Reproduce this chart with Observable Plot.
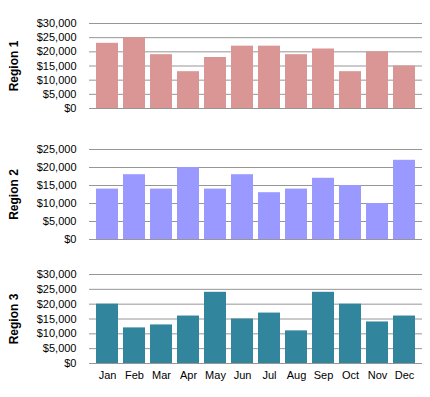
<!DOCTYPE html>
<html>
<head>
<meta charset="utf-8">
<script src="https://cdn.jsdelivr.net/npm/d3@7"></script>
<script src="https://cdn.jsdelivr.net/npm/@observablehq/plot@0.6"></script>
<style>
  body { margin: 0; background: #fff; }
  #chart svg { display: block; }
</style>
</head>
<body>
<div id="chart"></div>
<script>
const months = ["Jan","Feb","Mar","Apr","May","Jun","Jul","Aug","Sep","Oct","Nov","Dec"];
const region1 = [23000,25000,19000,13000,18000,22000,22000,19000,21000,13000,20000,15000];
const region2 = [14000,18000,14000,20000,14000,18000,13000,14000,17000,15000,10000,22000];
const region3 = [20000,12000,13000,16000,24000,15000,17000,11000,24000,20000,14000,16000];
const regionLabels = ["Region 1","Region 2","Region 3"];
const regionColors = ["#D99694","#9999FF","#31859C"];
const yMaxes = [30000, 25000, 30000];

const fmt = d => "$" + d3.format(",")(d);
const FONT = "'Liberation Sans', Arial, sans-serif";

function panel(values, color, label, ymax, height, mt, mb, showX) {
  const data = months.map((m, i) => ({month: m, value: values[i]}));
  return Plot.plot({
    width: 430,
    height,
    marginLeft: 89,
    marginRight: 8,
    marginTop: mt,
    marginBottom: mb,
    style: {fontFamily: FONT, fontSize: "11px", color: "#000", background: "#fff"},
    x: {domain: months, paddingInner: 0.2, paddingOuter: 0.1},
    y: {domain: [0, ymax], ticks: d3.range(0, ymax + 1, 5000)},
    marks: [
      Plot.gridY(d3.range(0, ymax + 1, 5000), {stroke: "#969696", strokeOpacity: 1, strokeWidth: 1}),
      Plot.barY(data, {x: "month", y: "value", fill: color, inset: 0}),
      Plot.axisY(d3.range(0, ymax + 1, 5000), {
        tickSize: 0, tickPadding: 13, tickFormat: fmt,
        label: label, labelAnchor: "center", labelArrow: false, labelOffset: 80,
        fontSize: 11
      }),
      showX ? Plot.axisX({tickSize: 0, tickPadding: 8, label: null, fontSize: 11}) : Plot.axisX({ticks: [], label: null})
    ]
  });
}

const chart = document.getElementById("chart");
chart.appendChild(panel(region1, regionColors[0], regionLabels[0], yMaxes[0], 130, 23, 22, false));
chart.appendChild(panel(region2, regionColors[1], regionLabels[1], yMaxes[1], 130, 19, 21, false));
chart.appendChild(panel(region3, regionColors[2], regionLabels[2], yMaxes[2], 137, 14, 34, true));

chart.querySelectorAll("g[aria-label='y-axis label'] text").forEach(t => {
  t.setAttribute("font-weight", "bold");
  t.setAttribute("font-size", "12px");
});
</script>
</body>
</html>
